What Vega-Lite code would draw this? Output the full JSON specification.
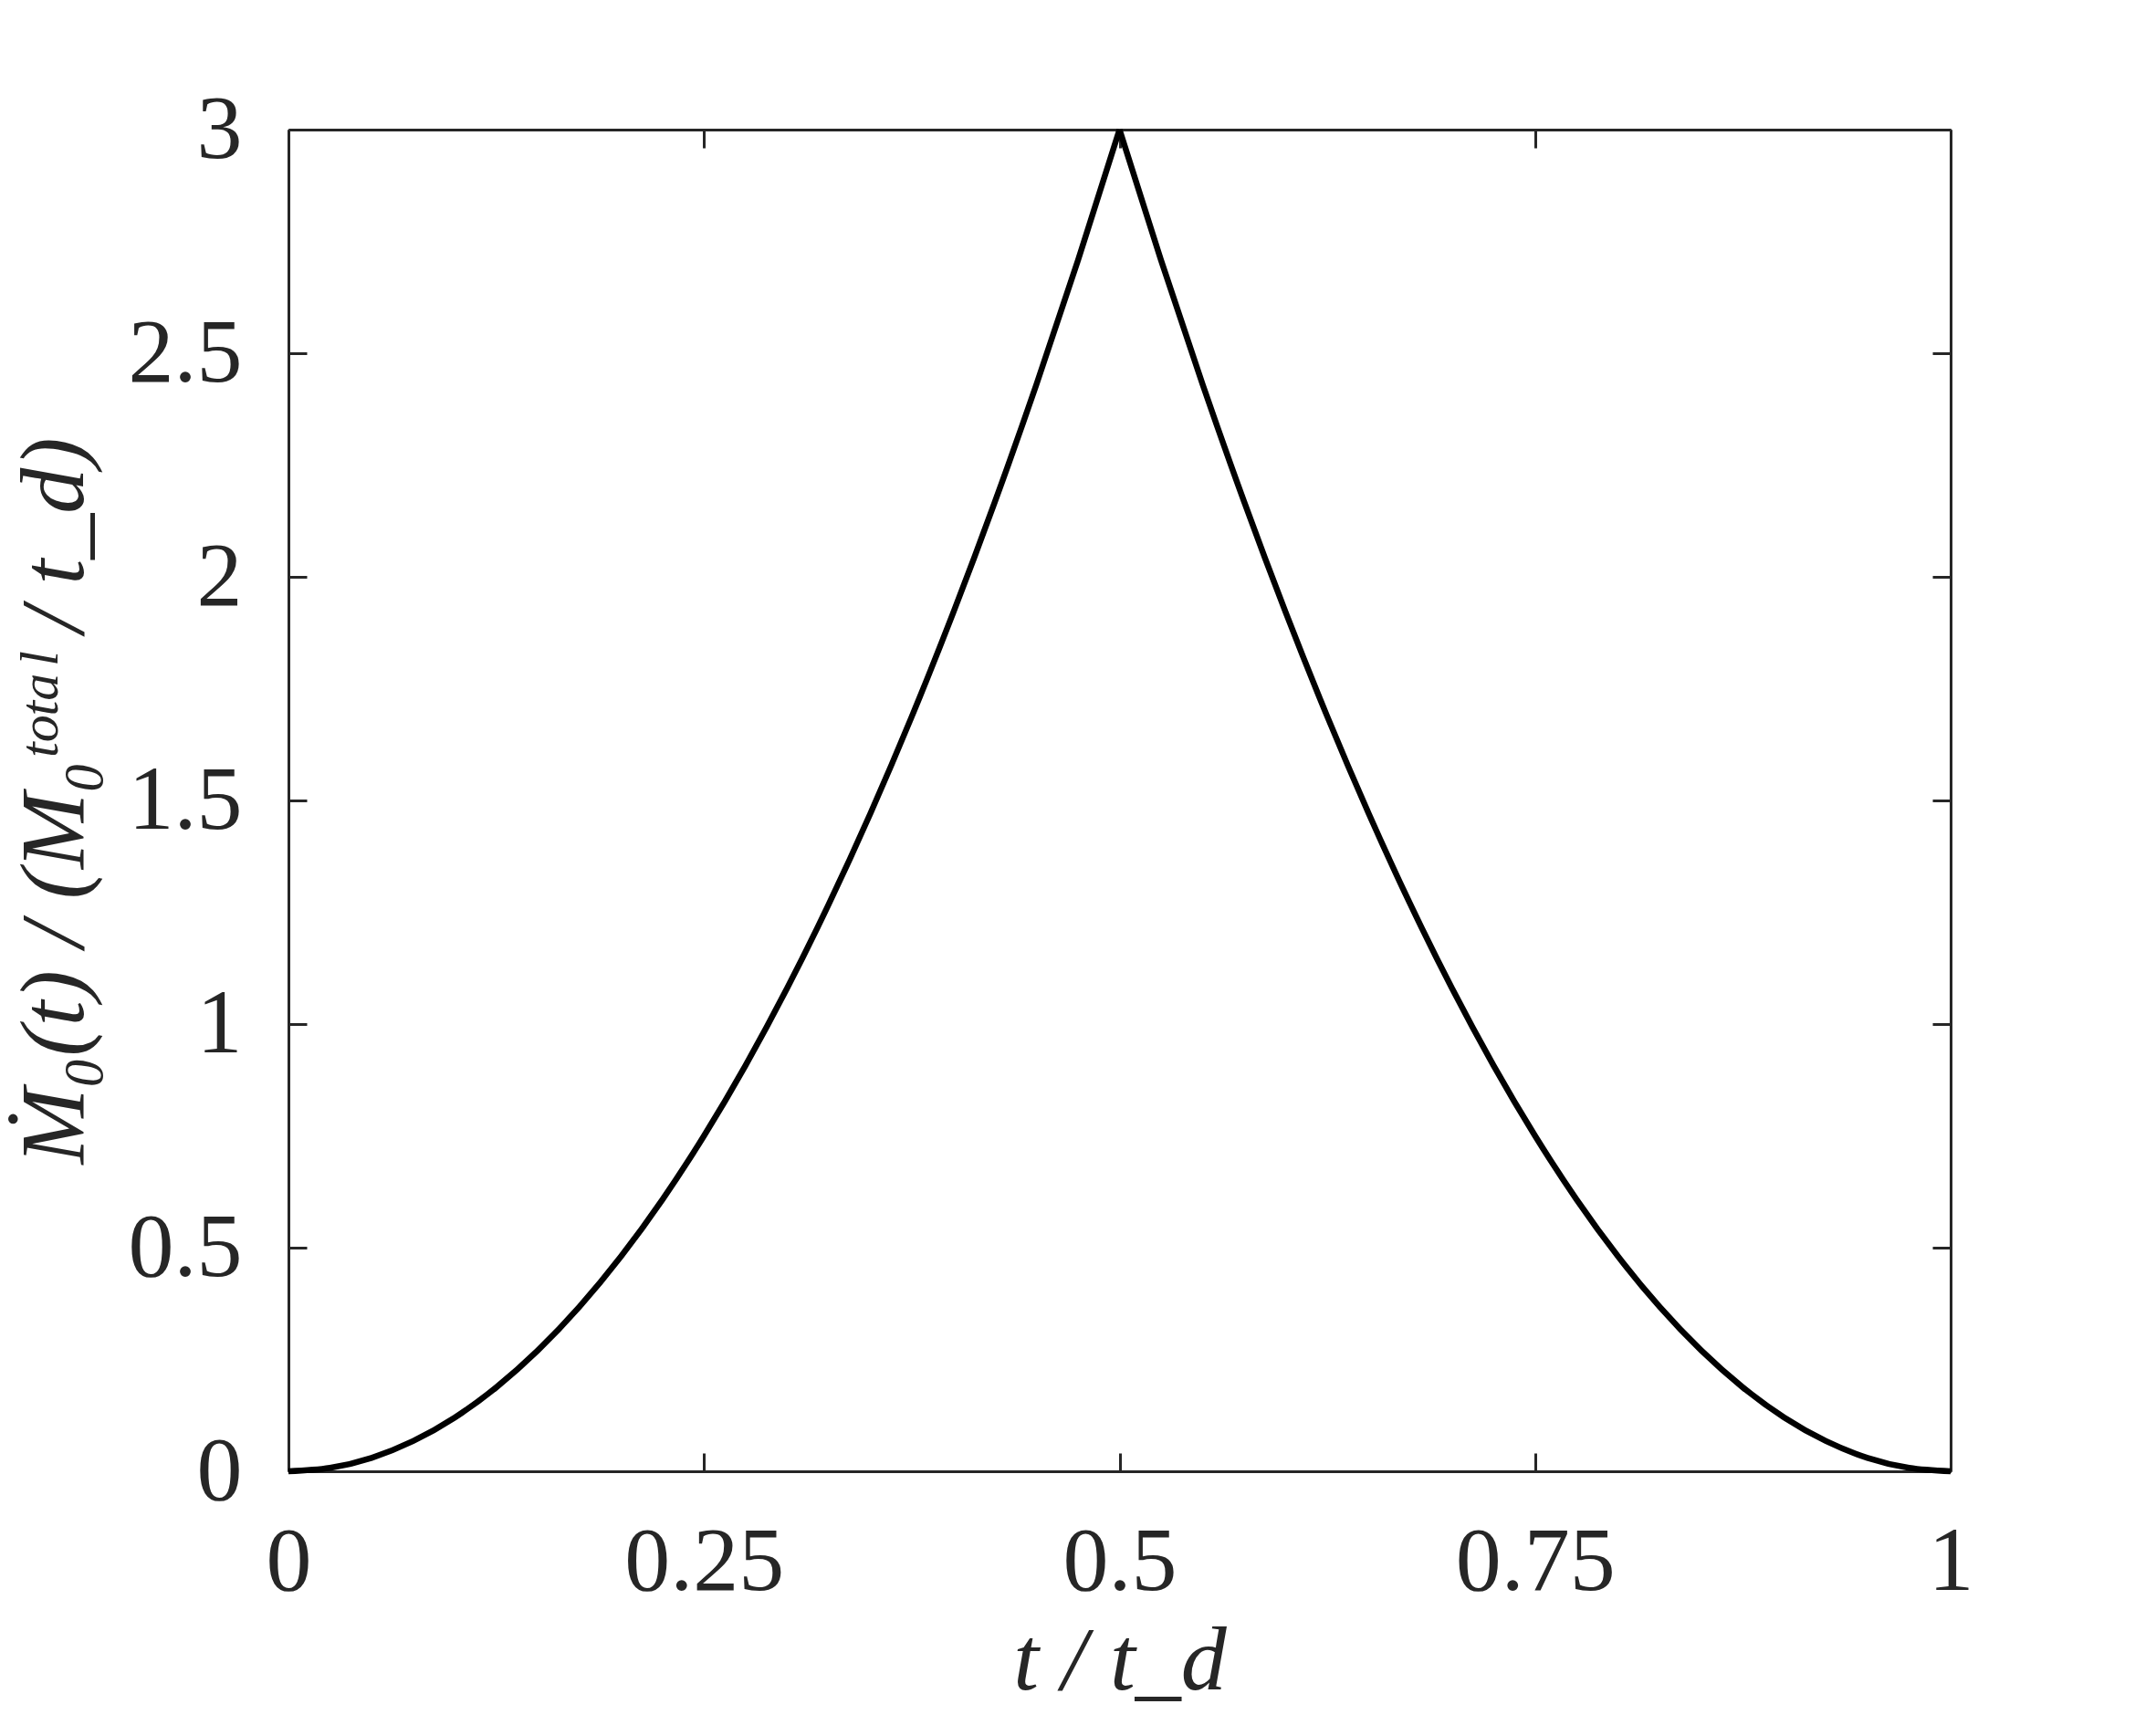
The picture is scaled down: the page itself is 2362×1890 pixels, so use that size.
{
  "$schema": "https://vega.github.io/schema/vega-lite/v6.json",
  "width": 1821,
  "height": 1470,
  "autosize": "none",
  "padding": {"left": 316, "top": 142, "right": 225, "bottom": 278},
  "background": "white",
  "config": {
    "view": {"stroke": null},
    "axis": {
      "grid": false,
      "domainColor": "#262626",
      "domainWidth": 3,
      "tickColor": "#262626",
      "tickWidth": 3,
      "tickSize": -20,
      "labelFont": "Liberation Serif",
      "labelFontSize": 100,
      "labelColor": "#262626",
      "labelFlush": false,
      "labelOverlap": false,
      "titleFont": "Liberation Serif",
      "titleFontSize": 100,
      "titleFontWeight": "normal",
      "titleFontStyle": "italic",
      "titleColor": "#262626"
    }
  },
  "data": {
    "values": [
      {"side": "rise", "t": 0, "m": 0},
      {"side": "rise", "t": 0.025, "m": 0.0075},
      {"side": "rise", "t": 0.05, "m": 0.03},
      {"side": "rise", "t": 0.075, "m": 0.0675},
      {"side": "rise", "t": 0.1, "m": 0.12},
      {"side": "rise", "t": 0.125, "m": 0.1875},
      {"side": "rise", "t": 0.15, "m": 0.27},
      {"side": "rise", "t": 0.175, "m": 0.3675},
      {"side": "rise", "t": 0.2, "m": 0.48},
      {"side": "rise", "t": 0.225, "m": 0.6075},
      {"side": "rise", "t": 0.25, "m": 0.75},
      {"side": "rise", "t": 0.275, "m": 0.9075},
      {"side": "rise", "t": 0.3, "m": 1.08},
      {"side": "rise", "t": 0.325, "m": 1.2675},
      {"side": "rise", "t": 0.35, "m": 1.47},
      {"side": "rise", "t": 0.375, "m": 1.6875},
      {"side": "rise", "t": 0.4, "m": 1.92},
      {"side": "rise", "t": 0.425, "m": 2.1675},
      {"side": "rise", "t": 0.45, "m": 2.43},
      {"side": "rise", "t": 0.475, "m": 2.7075},
      {"side": "rise", "t": 0.5, "m": 3},
      {"side": "fall", "t": 0.5, "m": 3},
      {"side": "fall", "t": 0.525, "m": 2.7075},
      {"side": "fall", "t": 0.55, "m": 2.43},
      {"side": "fall", "t": 0.575, "m": 2.1675},
      {"side": "fall", "t": 0.6, "m": 1.92},
      {"side": "fall", "t": 0.625, "m": 1.6875},
      {"side": "fall", "t": 0.65, "m": 1.47},
      {"side": "fall", "t": 0.675, "m": 1.2675},
      {"side": "fall", "t": 0.7, "m": 1.08},
      {"side": "fall", "t": 0.725, "m": 0.9075},
      {"side": "fall", "t": 0.75, "m": 0.75},
      {"side": "fall", "t": 0.775, "m": 0.6075},
      {"side": "fall", "t": 0.8, "m": 0.48},
      {"side": "fall", "t": 0.825, "m": 0.3675},
      {"side": "fall", "t": 0.85, "m": 0.27},
      {"side": "fall", "t": 0.875, "m": 0.1875},
      {"side": "fall", "t": 0.9, "m": 0.12},
      {"side": "fall", "t": 0.925, "m": 0.0675},
      {"side": "fall", "t": 0.95, "m": 0.03},
      {"side": "fall", "t": 0.975, "m": 0.0075},
      {"side": "fall", "t": 1, "m": 0}
    ]
  },
  "layer": [
    {
      "mark": {"type": "line", "color": "black", "strokeWidth": 6.5, "interpolate": "monotone", "strokeJoin": "round", "strokeCap": "butt"},
      "encoding": {
        "detail": {"field": "side", "type": "nominal"},
        "x": {
          "field": "t", "type": "quantitative",
          "scale": {"domain": [0, 1], "nice": false, "zero": false},
          "axis": {"values": [0, 0.25, 0.5, 0.75, 1], "format": ".2~f", "labelPadding": 70, "title": "t / t_d", "titlePadding": 10}
        },
        "y": {
          "field": "m", "type": "quantitative",
          "scale": {"domain": [0, 3], "nice": false},
          "axis": {"values": [0, 0.5, 1, 1.5, 2, 2.5, 3], "format": ".1~f", "labelPadding": 71, "title": "Ṁ₀(t) / (M₀ᵗᵒᵗᵃˡ / t_d)", "titlePadding": 29}
        }
      }
    },
    {
      "mark": {"type": "line", "opacity": 0},
      "encoding": {
        "detail": {"field": "side", "type": "nominal"},
        "x": {
          "field": "t", "type": "quantitative",
          "axis": {"orient": "top", "values": [0, 0.25, 0.5, 0.75, 1], "labels": false, "title": null}
        },
        "y": {
          "field": "m", "type": "quantitative",
          "axis": {"orient": "right", "values": [0, 0.5, 1, 1.5, 2, 2.5, 3], "labels": false, "title": null}
        }
      }
    }
  ],
  "resolve": {"axis": {"x": "independent", "y": "independent"}}
}
